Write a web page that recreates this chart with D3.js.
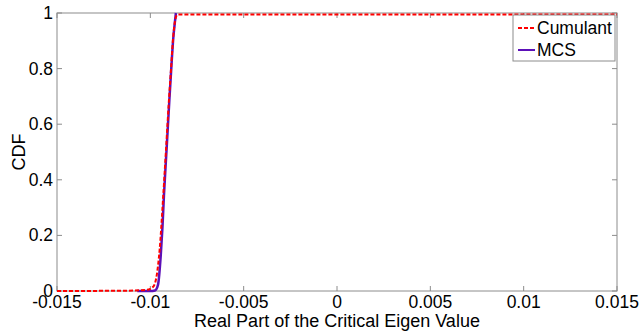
<!DOCTYPE html>
<html>
<head>
<meta charset="utf-8">
<script src="https://cdn.jsdelivr.net/npm/d3@7"></script>
<style>
  body { margin: 0; background: #fff; }
  svg { display: block; font-family: "Liberation Sans", Arial, sans-serif; }
</style>
</head>
<body>
<div id="chart"></div>
<script>
const xTicks = [-0.015, -0.01, -0.005, 0, 0.005, 0.01, 0.015];
const yTicks = [0, 0.2, 0.4, 0.6, 0.8, 1];

// MCS empirical CDF
const mcsX = [-0.0107, -0.0100, -0.00975, -0.00959, -0.00944, -0.00935, -0.00927, -0.00912, -0.00898, -0.00887, -0.00877, -0.00868, -0.00863];
const mcsY = [0, 0, 0.002, 0.022, 0.13, 0.23, 0.345, 0.52, 0.687, 0.81, 0.91, 0.97, 1];

// cumulant based CDF
const cumX = [-0.015, -0.0115, -0.0102, -0.00985, -0.00965, -0.0095, -0.00932, -0.00915, -0.009, -0.00888, -0.00878, -0.00868, -0.0086, -0.0085, 0.015];
const cumY = [0, 0.001, 0.004, 0.015, 0.06, 0.15, 0.33, 0.52, 0.69, 0.81, 0.91, 0.97, 0.99, 0.995, 0.995];

const legendLabels = ['Cumulant', 'MCS'];

const width = 640, height = 332;
const margin = { top: 13, right: 23, bottom: 41, left: 57 };
const w = width - margin.left - margin.right;
const h = height - margin.top - margin.bottom;

const svg = d3.select('#chart').append('svg')
    .attr('width', width)
    .attr('height', height);

const g = svg.append('g')
    .attr('transform', `translate(${margin.left},${margin.top})`);

const x = d3.scaleLinear().domain([-0.015, 0.015]).range([0, w]);
const y = d3.scaleLinear().domain([0, 1]).range([h, 0]);

const axisColor = '#8c8c8c';
const tickLen = 5;
const fs = '17.5px';

// box
g.append('rect')
    .attr('width', w).attr('height', h)
    .attr('fill', 'none')
    .attr('stroke', axisColor)
    .attr('stroke-width', 1);

// inner ticks on all sides
xTicks.forEach(t => {
    g.append('line').attr('x1', x(t)).attr('x2', x(t)).attr('y1', h).attr('y2', h - tickLen)
        .attr('stroke', axisColor);
    g.append('line').attr('x1', x(t)).attr('x2', x(t)).attr('y1', 0).attr('y2', tickLen)
        .attr('stroke', axisColor);
});
yTicks.forEach(t => {
    g.append('line').attr('x1', 0).attr('x2', tickLen).attr('y1', y(t)).attr('y2', y(t))
        .attr('stroke', axisColor);
    g.append('line').attr('x1', w).attr('x2', w - tickLen).attr('y1', y(t)).attr('y2', y(t))
        .attr('stroke', axisColor);
});

// tick labels
g.selectAll('.xlab')
    .data(xTicks)
    .enter()
    .append('text')
    .attr('x', d => x(d))
    .attr('y', h + 17)
    .attr('text-anchor', 'middle')
    .style('font-size', fs)
    .style('fill', '#000')
    .text(d => d === 0 ? '0' : String(d));

g.selectAll('.ylab')
    .data(yTicks)
    .enter()
    .append('text')
    .attr('x', -4)
    .attr('y', d => y(d) + 6)
    .attr('text-anchor', 'end')
    .style('font-size', fs)
    .style('fill', '#000')
    .text(d => String(d));

// axis titles
svg.append('text')
    .attr('x', margin.left + w / 2)
    .attr('y', 327)
    .attr('text-anchor', 'middle')
    .style('font-size', '18px')
    .text('Real Part of the Critical Eigen Value');

svg.append('text')
    .attr('transform', `translate(25,${margin.top + h / 2}) rotate(-90)`)
    .attr('text-anchor', 'middle')
    .style('font-size', '18px')
    .text('CDF');

// lines
const line = d3.line()
    .x(d => x(d[0]))
    .y(d => y(d[1]))
    .curve(d3.curveMonotoneX);

const mcsData = mcsX.map((v, i) => [v, mcsY[i]]);
const cumData = cumX.map((v, i) => [v, cumY[i]]);

g.append('path')
    .datum(mcsData)
    .attr('d', line)
    .attr('fill', 'none')
    .attr('stroke', '#5c10b8')
    .attr('stroke-width', 2.5);

g.append('path')
    .datum(cumData)
    .attr('d', line)
    .attr('fill', 'none')
    .attr('stroke', '#ff0000')
    .attr('stroke-width', 2)
    .attr('stroke-dasharray', '4,2');

// legend
const legend = svg.append('g')
    .attr('transform', 'translate(513,15)');

legend.append('rect')
    .attr('width', 102)
    .attr('height', 46)
    .attr('fill', '#fff')
    .attr('stroke', axisColor);

legendLabels.forEach((label, i) => {
    const ly = 13 + i * 22;
    const sample = legend.append('line')
        .attr('x1', 5).attr('x2', 22)
        .attr('y1', ly).attr('y2', ly)
        .attr('stroke-width', 2);
    if (i === 0) {
        sample.attr('stroke', '#ff0000').attr('stroke-dasharray', '4,2');
    } else {
        sample.attr('stroke', '#5c10b8');
    }
    legend.append('text')
        .attr('x', 24)
        .attr('y', ly + 6)
        .style('font-size', fs)
        .text(label);
});
</script>
</body>
</html>
